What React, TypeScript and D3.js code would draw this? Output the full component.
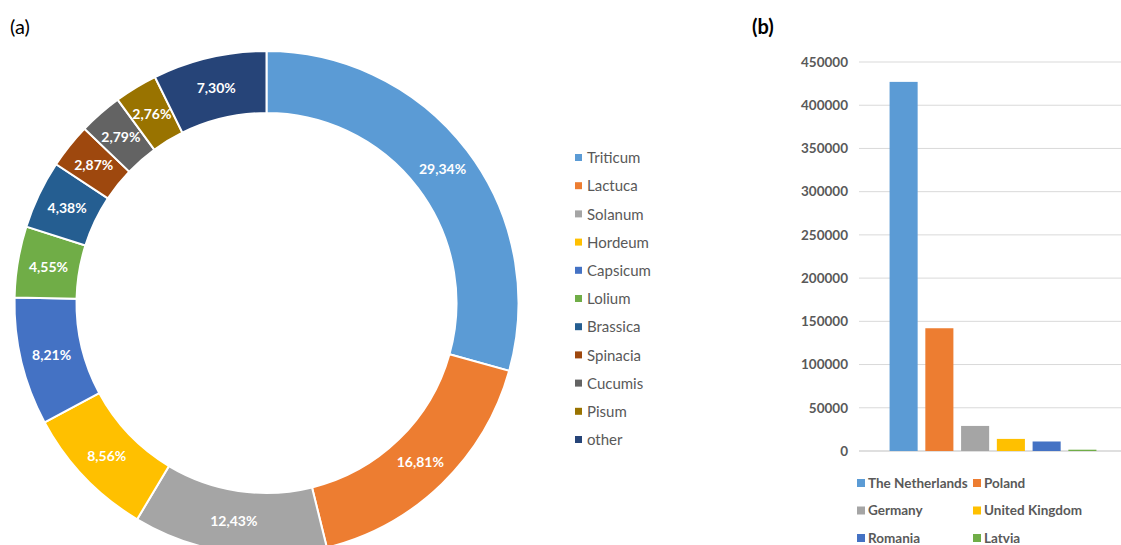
import React from "react";
import * as d3 from "d3";

// (a) genus share
const genera = ["Triticum", "Lactuca", "Solanum", "Hordeum", "Capsicum", "Lolium", "Brassica", "Spinacia", "Cucumis", "Pisum", "other"];
const shares = [29.34, 16.81, 12.43, 8.56, 8.21, 4.55, 4.38, 2.87, 2.79, 2.76, 7.30];
const pieColors = ["#5B9BD5", "#ED7D31", "#A5A5A5", "#FFC000", "#4472C4", "#70AD47", "#255E91", "#9E480E", "#636363", "#997300", "#264478"];

// (b) records per country
const countries = ["The Netherlands", "Poland", "Germany", "United Kingdom", "Romania", "Latvia"];
const counts = [427000, 142000, 29000, 14000, 11000, 1500];
const barColors = ["#5B9BD5", "#ED7D31", "#A5A5A5", "#FFC000", "#4472C4", "#70AD47"];
const yTicks = [0, 50000, 100000, 150000, 200000, 250000, 300000, 350000, 400000, 450000];

const FONT = "Lato, 'Open Sans', sans-serif";
const GREY = "#595959";

const fmtPct = (v: number) => d3.format(".2f")(v).replace(".", ",") + "%";

const Donut = () => {
    const cx = 266.5, cy = 303;
    const pie = d3.pie<number>().value(d => d).sort(null);
    const arc = d3.arc<d3.PieArcDatum<number>>().innerRadius(190).outerRadius(252);
    const slices = pie(shares);
    return (
        <g>
            <text x={10} y={34} fontSize={20} fontFamily={FONT} fill="#000">(a)</text>
            <g transform={`translate(${cx},${cy})`}>
                {slices.map((s, i) => (
                    <path key={i} d={arc(s) || ""} fill={pieColors[i]} stroke="#fff" strokeWidth={2} />
                ))}
                {slices.map((s, i) => {
                    const [x, y] = arc.centroid(s);
                    return (
                        <text key={i} x={x} y={y} dy="0.35em" textAnchor="middle" fill="#fff"
                            fontSize={14} fontWeight="bold" fontFamily={FONT}>{fmtPct(shares[i])}</text>
                    );
                })}
            </g>
            {genera.map((g, i) => (
                <g key={g} transform={`translate(575,${158 + i * 28.2})`}>
                    <rect x={0} y={-4} width={7} height={7} fill={pieColors[i]} />
                    <text x={12} y={0} dy="0.35em" fontSize={15} fontFamily={FONT} fill={GREY}>{g}</text>
                </g>
            ))}
        </g>
    );
};

const Bars = () => {
    const y = d3.scaleLinear().domain([0, 450000]).range([451, 62]);
    const x = d3.scaleBand<string>().domain(countries).range([886, 1100]).paddingInner(0.215).paddingOuter(0.1);
    return (
        <g>
            <text x={752} y={34} fontSize={20} fontWeight="bold" fontFamily={FONT} fill="#000">(b)</text>
            {yTicks.map(t => (
                <g key={t}>
                    <line x1={859} x2={1127} y1={y(t)} y2={y(t)} stroke={t === 0 ? "#bfbfbf" : "#d9d9d9"} strokeWidth={1} />
                    <text x={848} y={y(t)} dy="0.35em" textAnchor="end" fontSize={13.5} fontWeight="bold"
                        fontFamily={FONT} fill={GREY}>{t}</text>
                </g>
            ))}
            {countries.map((c, i) => (
                <rect key={c} x={x(c)} y={y(counts[i])} width={x.bandwidth()} height={y(0) - y(counts[i])} fill={barColors[i]} />
            ))}
            {countries.map((c, i) => (
                <g key={c} transform={`translate(${i % 2 === 0 ? 857 : 973},${483 + Math.floor(i / 2) * 27.5})`}>
                    <rect x={0} y={-4} width={8} height={8} fill={barColors[i]} />
                    <text x={11} y={0} dy="0.35em" fontSize={13.5} fontWeight="bold" fontFamily={FONT} fill={GREY}>{c}</text>
                </g>
            ))}
        </g>
    );
};

const App = () => (
    <svg width={1121} height={545} style={{ position: "absolute", left: 0, top: 0, background: "#fff" }}>
        <Donut />
        <Bars />
    </svg>
);

export default App;
